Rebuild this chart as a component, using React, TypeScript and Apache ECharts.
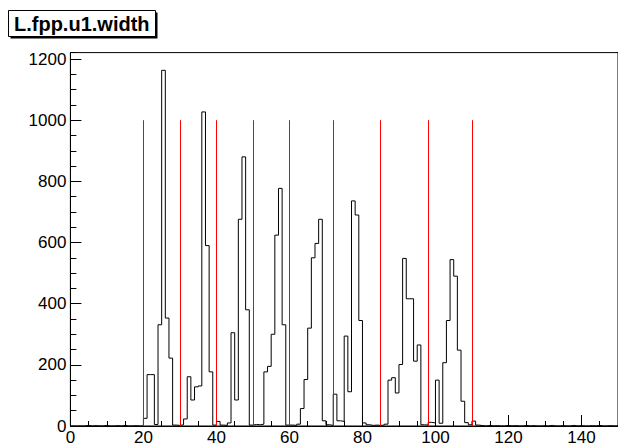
import React, { useEffect, useRef } from "react";
import * as echarts from "echarts";

const TITLE = "L.fpp.u1.width";
const X_MIN = 0;
const X_MAX = 150;
const Y_MAX = 1221;
// bin contents, bin width 1, starting at x = 0
const COUNTS = [
  0, 0, 0, 0, 2, 0, 1, 0, 0, 2, 0, 0, 1, 0, 2, 0, 0, 1, 0, 0,
  25, 168, 168, 5, 331, 1163, 353, 222, 3, 2,
  4, 23, 161, 85, 128, 131, 1027, 590, 177, 3,
  15, 3, 2, 10, 305, 85, 676, 880, 380, 3,
  5, 4, 6, 177, 195, 300, 624, 777, 331, 3,
  3, 2, 6, 57, 152, 320, 550, 597, 676, 17,
  4, 2, 104, 17, 15, 294, 112, 736, 690, 345,
  10, 4, 2, 3, 2, 3, 6, 150, 158, 108,
  201, 548, 416, 416, 212, 265, 4, 3, 12, 10,
  150, 9, 207, 345, 544, 490, 248, 81, 11, 4,
  16, 3, 1, 0, 2, 0, 1, 0, 0, 2,
  0, 1, 0, 0, 2, 0, 1, 0, 0, 1,
  0, 2, 0, 0, 1, 0, 0, 2, 0, 1,
  0, 0, 1, 0, 2, 0, 0, 1, 0, 0,
  0, 1, 0, 0, 0, 1, 0, 0, 0, 0,
];
const MARKERS = [20, 30, 40, 50, 60, 72, 85, 98, 110];
const MARKER_TOP = 1000;

const FONT = '"Liberation Sans", Arial, Helvetica, sans-serif';

export default function App() {
  const ref = useRef<HTMLDivElement>(null);
  useEffect(() => {
    if (!ref.current) return;
    const chart = echarts.init(ref.current, undefined, { renderer: "svg" });
    const steps: number[][] = [];
    COUNTS.forEach((c, i) => {
      steps.push([X_MIN + i, c]);
      steps.push([X_MIN + i + 1, c]);
    });
    const axisBase = {
      type: "value" as const,
      splitLine: { show: false },
    };
    const plain = (v: number) => String(v);
    chart.setOption({
      animation: false,
      backgroundColor: "#ffffff",
      grid: {
        left: 70.4,
        top: 52.6,
        right: -5.3,
        bottom: 18.3,
        show: true,
        borderColor: "#000",
        borderWidth: 1,
        backgroundColor: "transparent",
      },
      xAxis: [
        {
          ...axisBase,
          min: X_MIN,
          max: X_MAX,
          interval: 20,
          position: "bottom",
          axisLine: { show: true, onZero: false, lineStyle: { color: "#000", width: 1 } },
          axisTick: { show: true, inside: true, length: 11, lineStyle: { color: "#000" } },
          axisLabel: { color: "#000", fontSize: 17, fontFamily: FONT, margin: 3, showMaxLabel: false, formatter: plain },
        },
        {
          ...axisBase,
          min: X_MIN,
          max: X_MAX,
          interval: 5,
          position: "bottom",
          axisLine: { show: false },
          axisTick: { show: true, inside: true, length: 5, lineStyle: { color: "#000" } },
          axisLabel: { show: false },
        },
      ],
      yAxis: [
        {
          ...axisBase,
          min: 0,
          max: Y_MAX,
          interval: 200,
          position: "left",
          axisLine: { show: true, onZero: false, lineStyle: { color: "#000", width: 1 } },
          axisTick: { show: true, inside: true, length: 11, lineStyle: { color: "#000" } },
          axisLabel: { color: "#000", fontSize: 17, fontFamily: FONT, margin: 4, showMaxLabel: false, formatter: plain },
        },
        {
          ...axisBase,
          min: 0,
          max: Y_MAX,
          interval: 50,
          position: "left",
          axisLine: { show: false },
          axisTick: { show: true, inside: true, length: 6, lineStyle: { color: "#000" } },
          axisLabel: { show: false },
        },
      ],
      series: [
        {
          type: "line",
          xAxisIndex: 0,
          yAxisIndex: 0,
          data: steps,
          symbol: "none",
          silent: true,
          lineStyle: { color: "#000", width: 1 },
        },
        {
          type: "line",
          xAxisIndex: 0,
          yAxisIndex: 0,
          data: [],
          symbol: "none",
          silent: true,
          markLine: {
            silent: true,
            symbol: ["none", "none"],
            label: { show: false },
            lineStyle: { color: "#ff0000", width: 1, type: "solid" },
            data: MARKERS.map((x) => [{ coord: [x, 0] }, { coord: [x, MARKER_TOP] }]),
          },
        },
      ],
      graphic: [
        {
          type: "rect",
          shape: { x: 10.5, y: 12.5, width: 147, height: 26 },
          style: { fill: "#000" },
          silent: true,
        },
        {
          type: "rect",
          shape: { x: 8.5, y: 10.5, width: 147, height: 26 },
          style: { fill: "#fff", stroke: "#000", lineWidth: 1 },
          silent: true,
        },
        {
          type: "text",
          x: 14,
          y: 23.5,
          style: {
            text: TITLE,
            fill: "#000",
            font: `bold 20px ${FONT}`,
            verticalAlign: "middle",
            align: "left",
          },
          silent: true,
        },
      ],
    });
    return () => chart.dispose();
  }, []);
  return (
    <div
      ref={ref}
      style={{ position: "fixed", left: 0, top: 0, width: 618, height: 446, background: "#fff" }}
    />
  );
}
